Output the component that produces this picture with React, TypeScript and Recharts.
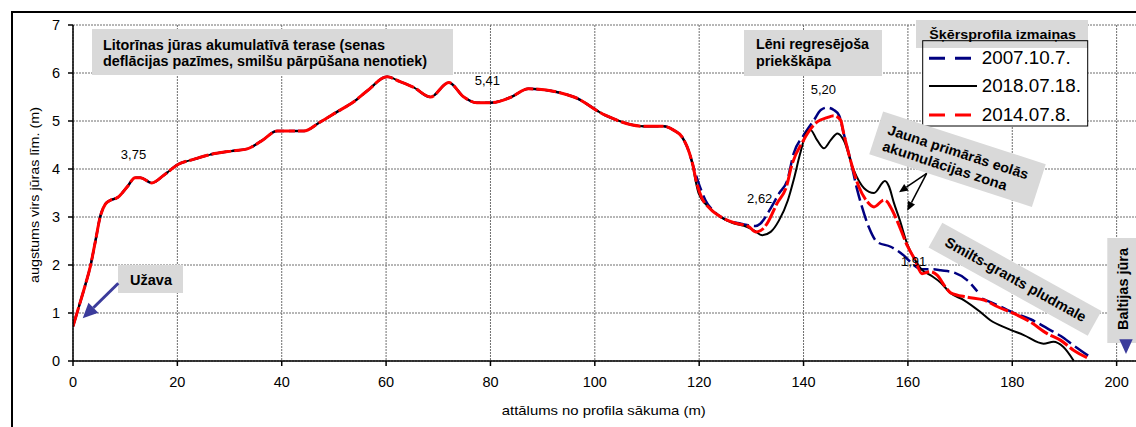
import React from 'react';
import { LineChart, Line, XAxis, YAxis, CartesianGrid, ReferenceDot } from 'recharts';

// Shared profile section (all three surveys coincide up to ~119 m)
const commonDist = [0, 0.9, 2.4, 3.3, 4.3, 5.2, 6.2, 7.2, 8.6, 10.4, 11.9, 12.9, 15.1, 17.4, 20.2, 23.1, 26.3, 30.8, 33.4, 36.2, 39.1, 44.2, 47.4, 50.6, 53.8, 56.4, 60.2, 62.7, 65.3, 68.5, 72.0, 74.9, 77.4, 80.0, 83.8, 87.3, 96.0, 102.0, 109.4, 113.2, 115.1, 116.7, 117.7, 118.7];
const commonHeight = [0.72, 1.05, 1.6, 1.96, 2.5, 3.0, 3.27, 3.35, 3.41, 3.63, 3.82, 3.82, 3.71, 3.87, 4.1, 4.2, 4.3, 4.38, 4.42, 4.59, 4.79, 4.79, 4.98, 5.19, 5.4, 5.63, 5.92, 5.82, 5.7, 5.5, 5.8, 5.5, 5.38, 5.38, 5.49, 5.67, 5.5, 5.12, 4.89, 4.89, 4.81, 4.67, 4.46, 4.12];

// 2007.10.7.
const dist2007 = [119.6, 121.2, 123.0, 125.4, 128.0, 130.8, 131.7, 133.7, 135.3, 136.9, 138.1, 140.0, 142.0, 143.3, 144.5, 145.8, 146.8, 147.7, 149.0, 150.3, 151.2, 152.5, 154.1, 156.7, 159.2, 161.1, 162.7, 164.9, 166.3, 168.9, 171.4, 173.3, 173.7, 174.2, 177.2, 180.3, 183.5, 186.7, 189.3, 191.8, 194.7];
const height2007: (number | null)[] = [3.8, 3.35, 3.1, 2.93, 2.86, 2.81, 2.86, 3.18, 3.49, 3.77, 4.32, 4.7, 5.02, 5.23, 5.28, 5.23, 5.12, 4.74, 4.18, 3.56, 3.21, 2.79, 2.48, 2.38, 2.2, 2.0, 1.91, 1.91, 1.89, 1.84, 1.68, 1.45, null, 1.3, 1.16, 1.0, 0.87, 0.68, 0.52, 0.32, 0.1];

// 2018.07.18.
const dist2018 = [119.3, 119.9, 121.8, 124.1, 126.3, 129.2, 130.5, 132.1, 133.7, 135.3, 137.0, 138.1, 139.3, 140.5, 141.3, 142.6, 143.9, 145.2, 146.5, 147.7, 149.6, 151.6, 153.5, 155.6, 156.4, 157.3, 158.4, 159.9, 161.3, 162.6, 164.3, 166.3, 168.2, 170.7, 173.9, 175.8, 179.0, 182.2, 186.0, 187.9, 189.8, 191.8];
const height2018 = [3.76, 3.49, 3.21, 3.0, 2.88, 2.79, 2.72, 2.62, 2.69, 2.93, 3.35, 3.77, 4.3, 4.74, 4.82, 4.6, 4.43, 4.6, 4.74, 4.6, 3.98, 3.6, 3.5, 3.75, 3.63, 3.3, 2.95, 2.43, 2.12, 1.91, 1.79, 1.63, 1.41, 1.27, 1.02, 0.85, 0.68, 0.54, 0.36, 0.4, 0.29, 0.0];

// 2014.07.8.
const dist2014 = [119.5, 120.5, 122.0, 124.5, 127.0, 129.5, 130.8, 131.8, 133.0, 134.9, 136.9, 137.5, 140.0, 142.6, 144.5, 145.8, 147.1, 147.7, 149.0, 150.6, 152.2, 153.5, 155.4, 156.0, 157.0, 157.9, 159.9, 161.3, 162.7, 164.3, 165.6, 167.2, 168.2, 171.4, 174.6, 177.2, 180.3, 183.5, 186.7, 189.3, 191.8, 194.7];
const height2014 = [3.72, 3.4, 3.18, 2.98, 2.87, 2.8, 2.69, 2.72, 2.86, 3.28, 3.7, 3.98, 4.6, 4.98, 5.07, 5.11, 5.02, 4.74, 4.18, 3.63, 3.32, 3.21, 3.35, 3.32, 3.14, 2.93, 2.4, 2.12, 1.82, 1.86, 1.79, 1.54, 1.42, 1.33, 1.27, 1.13, 0.99, 0.81, 0.57, 0.43, 0.22, 0.05];

const seriesNames = ['2007.10.7.', '2018.07.18.', '2014.07.8.'];
const xTicks = [0, 20, 40, 60, 80, 100, 120, 140, 160, 180, 200];
const yTicks = [0, 1, 2, 3, 4, 5, 6, 7];

const labelText = ['3,75', '5,41', '5,20', '2,62', '1,91'];
const labelDist = [11.6, 79.4, 143.8, 131.6, 161.1];
const labelHeight = [4.31, 5.85, 5.66, 3.39, 2.08];

const build = (d: number[], h: (number | null)[]) => d.map((x, i) => ({ x, y: h[i] }));
const data2007 = build([...commonDist, ...dist2007], [...commonHeight, ...height2007]);
const data2018 = build([...commonDist, ...dist2018], [...commonHeight, ...height2018]);
const data2014 = build([...commonDist, ...dist2014], [...commonHeight, ...height2014]);

const FONT = 'Arial, "Liberation Sans", Helvetica, sans-serif';
const BLUE = '#000080';
const RED = '#FF0000';
const BOX = '#d9d9d9';
const ARROW_BLUE = '#3b3b9b';

function Arrow({ x1, y1, x2, y2, len, hw, color, width }: any) {
  const L = Math.hypot(x2 - x1, y2 - y1);
  const ux = (x2 - x1) / L, uy = (y2 - y1) / L;
  const bx = x2 - ux * len, by = y2 - uy * len;
  const px = -uy, py = ux;
  return (
    <g>
      <line x1={x1} y1={y1} x2={bx} y2={by} stroke={color} strokeWidth={width} />
      <polygon points={`${x2},${y2} ${bx + px * hw},${by + py * hw} ${bx - px * hw},${by - py * hw}`} fill={color} />
    </g>
  );
}

export default function App() {
  const boldText = { fontFamily: FONT, fontWeight: 700, fill: '#000' } as const;
  return (
    <div style={{ position: 'fixed', left: 0, top: 0, width: 1136, height: 427, overflow: 'hidden', background: '#fff', fontFamily: FONT }}>
      <div style={{ position: 'absolute', left: 11, top: 11, width: 1300, height: 600, border: '2px solid #000', boxSizing: 'border-box' }} />
      <div style={{ position: 'absolute', left: 0, top: 0 }}>
        <LineChart width={1240} height={427} margin={{ top: 25, right: 19, left: 13, bottom: 30 }}>
          <CartesianGrid stroke="#6e6e6e" strokeDasharray="2 1" strokeWidth={1} />
          <XAxis
            type="number"
            dataKey="x"
            domain={[0, 220]}
            ticks={xTicks}
            allowDataOverflow
            height={36}
            stroke="#000"
            strokeWidth={1.5}
            tickSize={5}
            tickMargin={11}
            tick={{ fill: '#000', fontSize: 14.5, fontFamily: FONT }}
            interval={0}
          />
          <YAxis
            type="number"
            domain={[0, 7]}
            ticks={yTicks}
            width={60}
            stroke="#000"
            strokeWidth={1.5}
            tickSize={5}
            tickMargin={8}
            tick={{ fill: '#000', fontSize: 14.5, fontFamily: FONT }}
            interval={0}
          />
          <Line data={data2007} dataKey="y" name={seriesNames[0]} type="monotone" stroke={BLUE} strokeWidth={2.5} strokeDasharray="16 5" dot={false} isAnimationActive={false} connectNulls={false} />
          <Line data={data2018} dataKey="y" name={seriesNames[1]} type="monotone" stroke="#000" strokeWidth={2} dot={false} isAnimationActive={false} />
          <Line data={data2014} dataKey="y" name={seriesNames[2]} type="monotone" stroke={RED} strokeWidth={3} strokeDasharray="20 3" dot={false} isAnimationActive={false} />
          {labelText.map((t, i) => (
            <ReferenceDot
              key={t}
              x={labelDist[i]}
              y={labelHeight[i]}
              r={0}
              fill="none"
              stroke="none"
              ifOverflow="visible"
              label={{ value: t, position: 'center', fill: '#000', fontSize: 13, fontFamily: FONT }}
            />
          ))}
        </LineChart>
      </div>
      <svg width={1136} height={427} style={{ position: 'absolute', left: 0, top: 0, pointerEvents: 'none' }}>
        {/* axis titles */}
        <text x={603.8} y={414.5} textAnchor="middle" fontFamily={FONT} fontSize={13} fill="#000" textLength={204} lengthAdjust="spacingAndGlyphs">attālums no profila sākuma (m)</text>
        <text transform="translate(39,195) rotate(-90)" textAnchor="middle" fontFamily={FONT} fontSize={13} fill="#000" textLength={176} lengthAdjust="spacingAndGlyphs">augstums virs jūras līm. (m)</text>

        {/* Litorīnas terrace note */}
        <rect x={92} y={29} width={361} height={46} fill={BOX} />
        <text x={103} y={49.5} fontSize={14} {...boldText} textLength={282} lengthAdjust="spacingAndGlyphs">Litorīnas jūras akumulatīvā terase (senas</text>
        <text x={103} y={66} fontSize={14} {...boldText} textLength={324} lengthAdjust="spacingAndGlyphs">deflācijas pazīmes, smilšu pārpūšana nenotiek)</text>

        {/* Lēni regresējoša priekškāpa */}
        <rect x={744} y={30} width={138} height={46} fill={BOX} />
        <text x={756} y={49.3} fontSize={14} {...boldText} textLength={113} lengthAdjust="spacingAndGlyphs">Lēni regresējoša</text>
        <text x={756} y={65.5} fontSize={14} {...boldText} textLength={75} lengthAdjust="spacingAndGlyphs">priekškāpa</text>

        {/* Užava */}
        <rect x={118} y={265} width={65} height={28} fill={BOX} />
        <text x={130} y={285} fontSize={14} {...boldText} textLength={42} lengthAdjust="spacingAndGlyphs">Užava</text>
        <Arrow x1={118.3} y1={283.3} x2={82.7} y2={318.3} len={15} hw={7} color={ARROW_BLUE} width={3} />

        {/* Legend */}
        <rect x={922.7} y={40.7} width={165} height={85.3} fill="#fff" />
        <rect x={916} y={20} width={172} height={28} fill={BOX} />
        <rect x={922.7} y={40.7} width={165} height={85.3} fill="none" stroke="#000" strokeWidth={1} />
        <text x={929.3} y={39.3} fontSize={13} {...boldText} textLength={146.7} lengthAdjust="spacingAndGlyphs">Šķērsprofila izmaiņas</text>
        <line x1={929} y1={58.3} x2={977} y2={58.3} stroke={BLUE} strokeWidth={3} strokeDasharray="16 10" />
        <line x1={929} y1={86} x2={977} y2={86} stroke="#000" strokeWidth={2} />
        <line x1={929} y1={115} x2={977} y2={115} stroke={RED} strokeWidth={3} strokeDasharray="16 10" />
        <text x={981.7} y={64} fontFamily={FONT} fontSize={17.5} fill="#000" textLength={89} lengthAdjust="spacingAndGlyphs">{seriesNames[0]}</text>
        <text x={981.7} y={92.3} fontFamily={FONT} fontSize={17.5} fill="#000" textLength={99.3} lengthAdjust="spacingAndGlyphs">{seriesNames[1]}</text>
        <text x={981.7} y={120.7} fontFamily={FONT} fontSize={17.5} fill="#000" textLength={89} lengthAdjust="spacingAndGlyphs">{seriesNames[2]}</text>

        {/* Jauna primārās eolās akumulācijas zona */}
        <g transform="translate(957.5,159.2) rotate(18)">
          <rect x={-85.5} y={-22.5} width={171} height={45} fill={BOX} />
          <text x={-75} y={-2} fontSize={14} {...boldText} textLength={147} lengthAdjust="spacingAndGlyphs">Jauna primārās eolās</text>
          <text x={-75} y={15} fontSize={14} {...boldText} textLength={130} lengthAdjust="spacingAndGlyphs">akumulācijas zona</text>
        </g>
        <Arrow x1={926.7} y1={173.3} x2={899} y2={192.3} len={9} hw={4} color="#000" width={1.5} />
        <Arrow x1={926.7} y1={173.3} x2={907.3} y2={210.7} len={9} hw={4} color="#000" width={1.5} />

        {/* Smilts-grants pludmale */}
        <g transform="translate(1015,279.2) rotate(29)">
          <rect x={-91} y={-14.2} width={182} height={28.4} fill={BOX} />
          <text x={0.7} y={5} textAnchor="middle" fontSize={14.5} {...boldText} textLength={159} lengthAdjust="spacingAndGlyphs">Smilts-grants pludmale</text>
        </g>

        {/* Baltijas jūra */}
        <rect x={1107.3} y={238} width={40} height={105} fill={BOX} />
        <text transform="translate(1128.3,289) rotate(-90)" textAnchor="middle" fontSize={14} {...boldText} textLength={82} lengthAdjust="spacingAndGlyphs">Baltijas jūra</text>
        <polygon points="1119.3,339.3 1132.7,339.3 1126,354" fill={ARROW_BLUE} />
      </svg>
    </div>
  );
}
